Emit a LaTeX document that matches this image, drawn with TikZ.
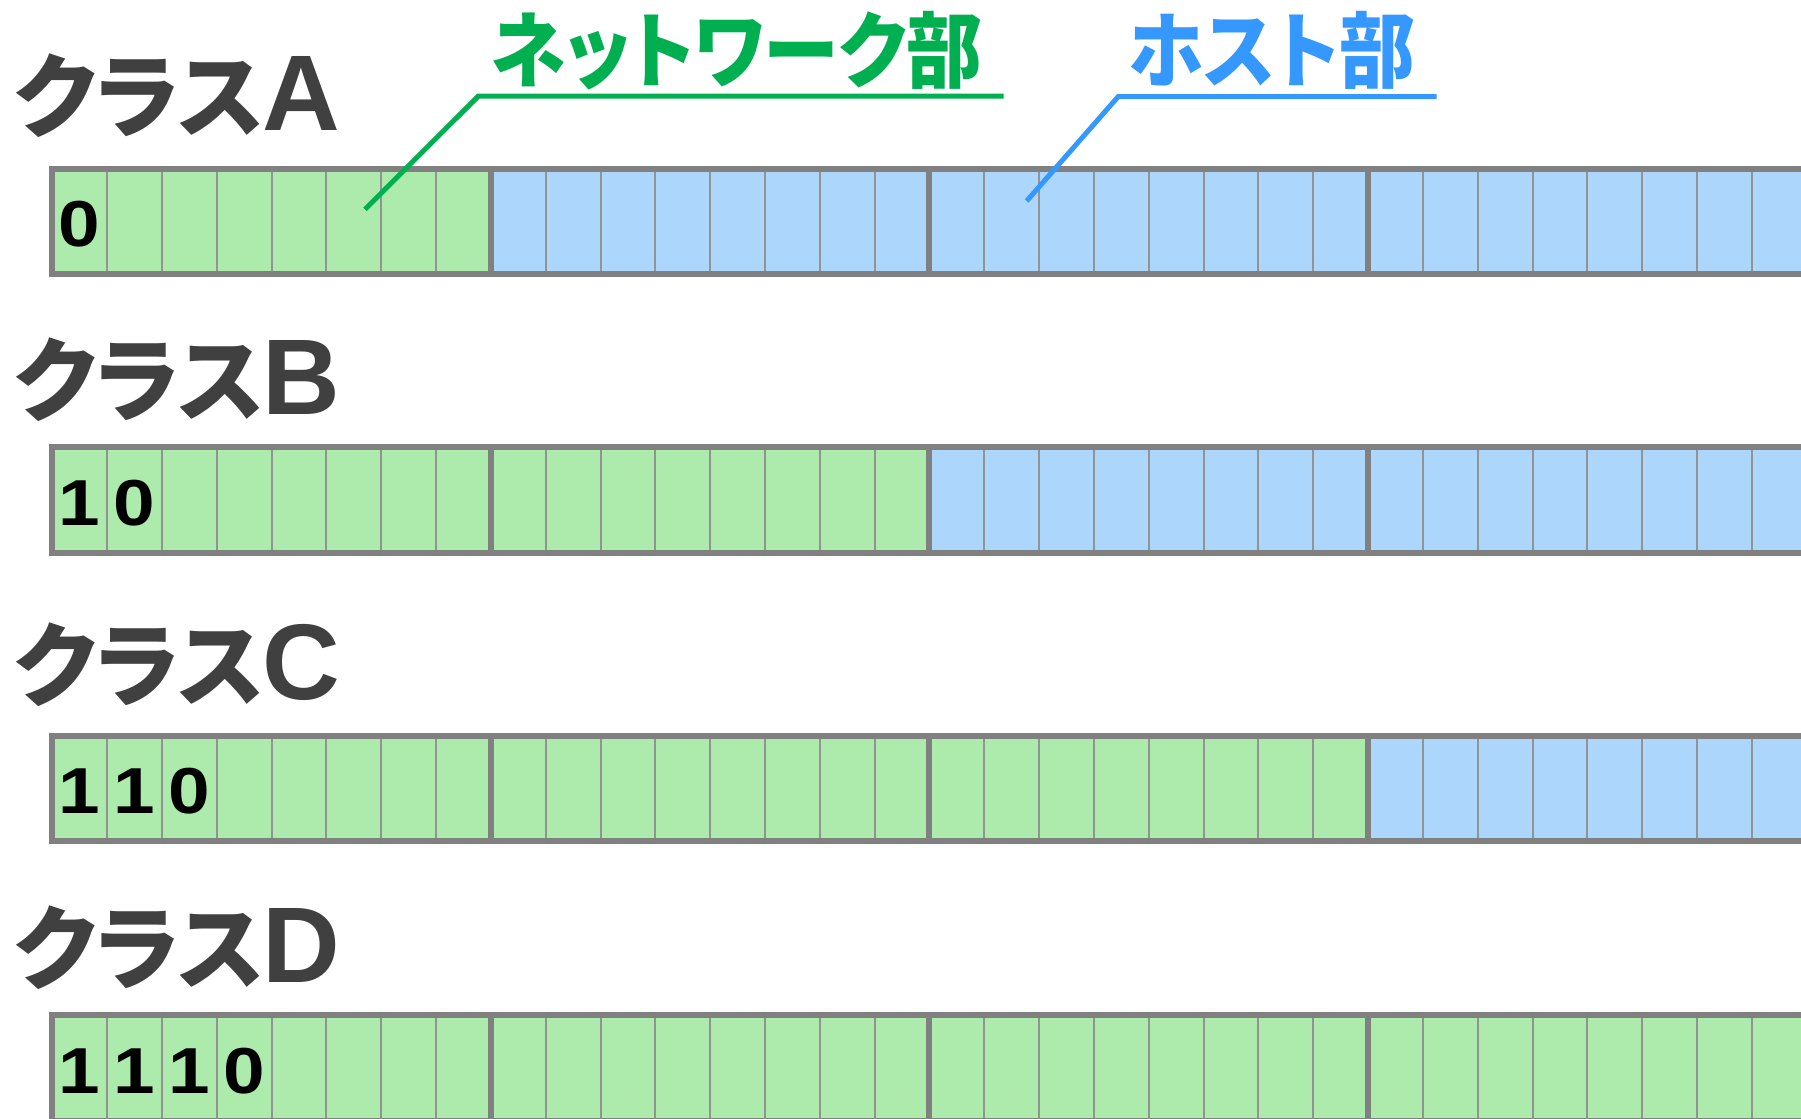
\documentclass[tikz,border=0pt]{standalone}
\usepackage{fontspec}
\newfontfamily\jpfont[RawFeature=+palt]{Noto Sans CJK JP}
\newfontfamily\latinfont{Liberation Sans}
\usetikzlibrary{positioning}

\definecolor{netgreen}{RGB}{0,176,80}
\definecolor{hostblue}{RGB}{52,152,255}
\definecolor{cellgreen}{RGB}{173,235,173}
\definecolor{cellblue}{RGB}{173,214,253}
\definecolor{bordergray}{RGB}{128,128,128}
\definecolor{labelgray}{RGB}{64,64,64}

\newcommand{\classname}[1]{{\jpfont\bfseries\fontsize{45.7}{54}\selectfont クラス}\hspace{-1pt}{\latinfont\bfseries\fontsize{53.8}{60}\selectfont #1}}

\begin{document}
\begin{tikzpicture}[x=0.5pt,y=-0.5pt,line join=miter,
    classlabel/.style={anchor=base west, inner sep=0pt, text=labelgray},
    bitlabel/.style={anchor=base, inner sep=0pt, xscale=1.15, font=\latinfont\bfseries\fontsize{32.5}{36}\selectfont},
    partlabel/.style={anchor=base, inner sep=0pt, xscale=0.915, font=\jpfont\bfseries\fontsize{41.5}{48}\selectfont},
    thinsep/.style={draw=bordergray!85!white, line width=1pt},
    thicksep/.style={draw=bordergray, line width=3pt},
    leader/.style={line width=2.5pt, line cap=butt}]

  \useasboundingbox (0,0) rectangle (1801,1119);
  \clip (0,0) rectangle (1801,1119);

  % rows: class / top of bar / label baseline / green cells / leading bits
  \foreach \cls/\ytop/\ylab/\ngreen/\bits in {
    A/168.5/130.7/8/{0},
    B/447/414.3/16/{1,0},
    C/735.5/699/24/{1,1,0},
    D/1015.3/982.3/32/{1,1,1,0}} {
    \node[classlabel] (class\cls) at (14,\ylab) {\classname{\cls}};
    \fill[cellgreen] (52.2,\ytop) rectangle ({52.2+\ngreen*54.83},\ytop+105.5);
    \fill[cellblue] ({52.2+\ngreen*54.83},\ytop) rectangle (1806.8,\ytop+105.5);
    \foreach \n in {1,...,31}
      \draw[thinsep] ({52.2+\n*54.83},\ytop) -- ({52.2+\n*54.83},\ytop+105.5);
    \foreach \n in {0,8,16,24,32}
      \draw[thicksep] ({52.2+\n*54.83},\ytop) -- ({52.2+\n*54.83},\ytop+105.5);
    \draw[thicksep] (49.2,\ytop) -- (1810,\ytop) (49.2,\ytop+105.5) -- (1810,\ytop+105.5);
    \foreach \bit [count=\pos] in \bits
      \node[bitlabel] (bit\cls\pos) at ({52.2+(\pos-0.5)*54.83},\ytop+78) {\bit};
  }

  % network part leader
  \node[partlabel, text=netgreen] (netpart) at (736.5,81.5) {ネットワーク部};
  \coordinate (netTip) at (365,209.3);
  \coordinate (netBend) at (478.3,96.2);
  \coordinate (netEnd) at (1003.6,96.2);
  \draw[leader, netgreen] (netTip) -- (netBend) -- (netEnd);

  % host part leader
  \node[partlabel, text=hostblue] (hostpart) at (1271.7,81.5) {ホスト部};
  \coordinate (hostTip) at (1026.7,201);
  \coordinate (hostBend) at (1118.3,96.5);
  \coordinate (hostEnd) at (1436.7,96.5);
  \draw[leader, hostblue] (hostTip) -- (hostBend) -- (hostEnd);

\end{tikzpicture}
\end{document}
